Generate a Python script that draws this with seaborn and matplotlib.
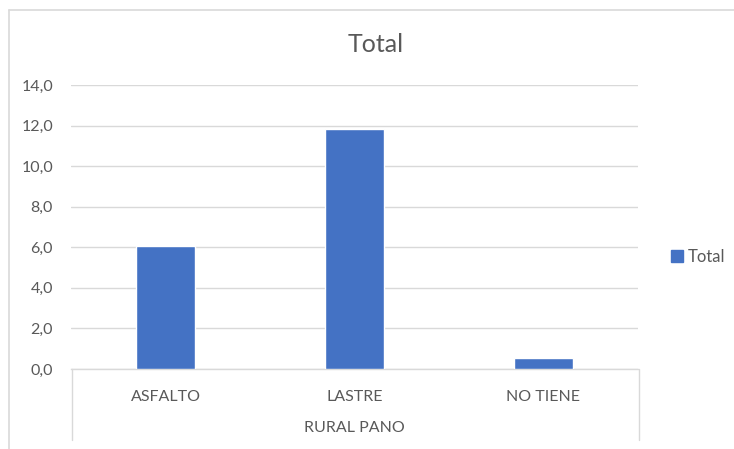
import matplotlib
matplotlib.use("Agg")
import matplotlib.pyplot as plt
import seaborn as sns
import pandas as pd
from matplotlib.lines import Line2D
from matplotlib.patches import Patch

categories = ["ASFALTO", "LASTRE", "NO TIENE"]
values = [6.05, 11.85, 0.55]
yticks = [0, 2, 4, 6, 8, 10, 12, 14]
group_label = "RURAL PANO"
title = "Total"
series_name = "Total"

sns.set_theme(style="white")
plt.rcParams["font.family"] = ["Lato", "DejaVu Sans"]

BAR = "#4472C4"
GRID = "#D9D9D9"
TXT = "#595959"

df = pd.DataFrame({"cat": categories, "val": values})

fig = plt.figure(figsize=(7.34, 4.49), dpi=100)
W, H = 734, 449
ax = fig.add_axes([71 / W, 1 - 369 / H, (638 - 71) / W, (369 - 85) / H])

sns.barplot(data=df, x="cat", y="val", color=BAR, width=0.315, ax=ax,
            saturation=1, zorder=3)

ax.set_ylim(0, 14)
ax.set_yticks(yticks)
ax.set_yticklabels([f"{t:.1f}".replace(".", ",") for t in yticks],
                   fontsize=11.5, color=TXT)
ax.yaxis.grid(True, color=GRID, linewidth=1, zorder=0)
ax.set_xlabel("")
ax.set_ylabel("")
ax.set_xticklabels(categories, fontsize=11.5, color=TXT)
ax.tick_params(axis="x", length=0, pad=15)
ax.tick_params(axis="y", length=0, pad=13)
for s in ["top", "right", "left"]:
    ax.spines[s].set_visible(False)
ax.spines["bottom"].set_color(GRID)
ax.spines["bottom"].set_linewidth(1)

# category group box lines
for x in (71.5, 638.5):
    fig.add_artist(Line2D([x / W, x / W], [1 - 369 / H, 1 - 440 / H],
                          color=GRID, linewidth=1, transform=fig.transFigure))
fig.text((71 + 638) / 2 / W, 1 - 428 / H, group_label, ha="center", va="center",
         fontsize=11.5, color=TXT)

# outer frame lines
fig.add_artist(Line2D([8.5 / W, 1], [1 - 9.5 / H, 1 - 9.5 / H], color=GRID,
                      linewidth=1.2, transform=fig.transFigure))
fig.add_artist(Line2D([8.5 / W, 8.5 / W], [1 - 9.5 / H, 0], color=GRID,
                      linewidth=1.2, transform=fig.transFigure))

fig.text(376 / W, 1 - 44 / H, title, ha="center", va="center",
         fontsize=18, color=TXT)

leg = fig.legend(handles=[Patch(facecolor=BAR, edgecolor=BAR, label=series_name)],
                 loc="center left", bbox_to_anchor=(656 / W, 1 - 257 / H),
                 frameon=False, fontsize=12, handlelength=0.7, handleheight=0.7,
                 handletextpad=0.3, labelcolor=TXT)

fig.savefig("out.png", dpi=100, facecolor="white")
